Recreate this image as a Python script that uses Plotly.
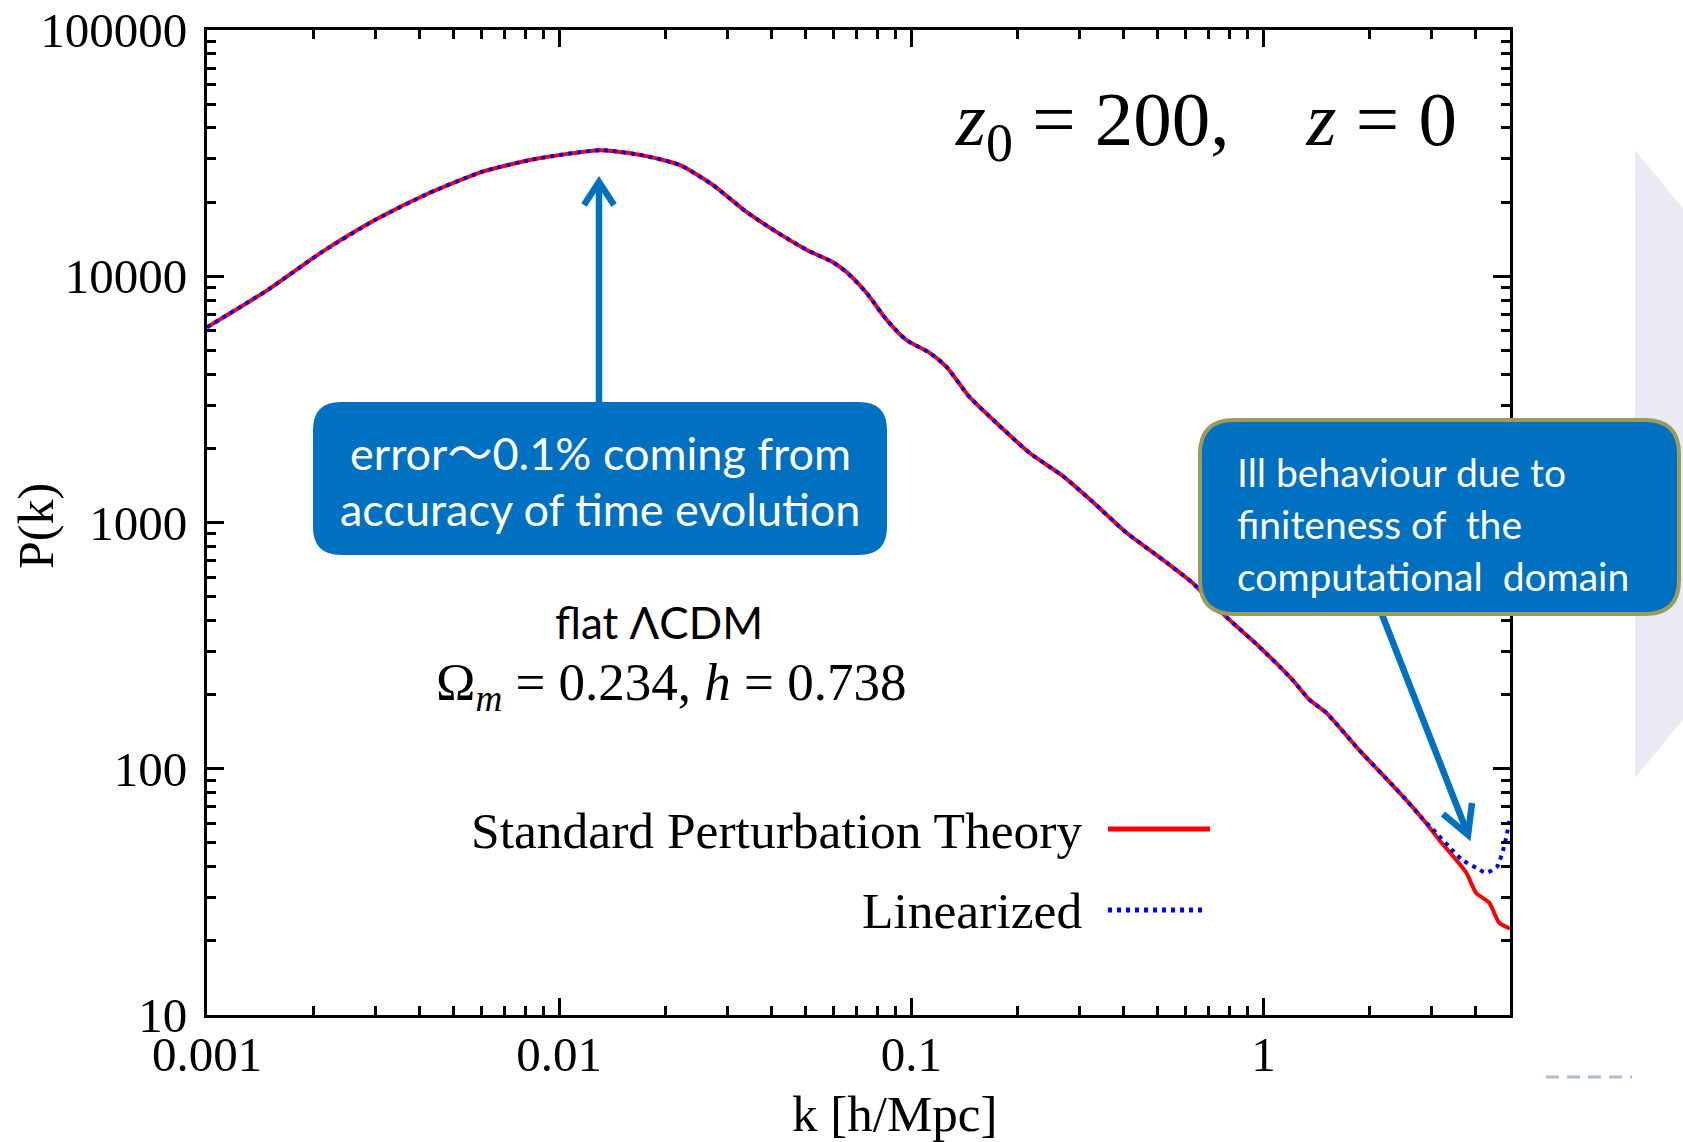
import plotly.graph_objects as go

# ---------------- data ----------------
k_spt = [0.001, 0.001493, 0.002118, 0.003006, 0.004276, 0.006067, 0.00861, 0.013122,
         0.017378, 0.021979, 0.02729, 0.034041, 0.0414, 0.050466, 0.059704, 0.065464,
         0.074645, 0.085114, 0.096828, 0.11272, 0.125893, 0.146218, 0.174582, 0.216272,
         0.268534, 0.326588, 0.408319, 0.505825, 0.628058, 0.78343, 0.972747, 1.207814,
         1.348963, 1.506607, 1.870682, 2.290868, 2.540973, 2.818383,
         3.155, 3.524, 3.767, 4.018, 4.375, 4.667, 5.012]
p_spt = [6209, 8831, 12531, 16943, 21777, 26607, 29992, 32509,
         30903, 28314, 23496, 18239, 15136, 12794, 11429, 10399,
         8551, 6653, 5508, 4887, 4285, 3236, 2535, 1919,
         1549, 1216, 908, 724, 569, 414, 313, 230,
         191, 169, 119, 87.7, 74.8, 63.1,
         51.4, 42.7, 37.8, 31.3, 28.6, 23.7, 22.4]

k_lin = [0.001, 0.001493, 0.002118, 0.003006, 0.004276, 0.006067, 0.00861, 0.013122,
         0.017378, 0.021979, 0.02729, 0.034041, 0.0414, 0.050466, 0.059704, 0.065464,
         0.074645, 0.085114, 0.096828, 0.11272, 0.125893, 0.146218, 0.174582, 0.216272,
         0.268534, 0.326588, 0.408319, 0.505825, 0.628058, 0.78343, 0.972747, 1.207814,
         1.348963, 1.506607, 1.870682, 2.290868, 2.540973, 2.818383,
         3.090, 3.365, 3.664, 4.018, 4.285, 4.603, 4.819, 4.920, 5.012]
p_lin = [6209, 8831, 12531, 16943, 21777, 26607, 29992, 32509,
         30903, 28314, 23496, 18239, 15136, 12794, 11429, 10399,
         8551, 6653, 5508, 4887, 4285, 3236, 2535, 1919,
         1549, 1216, 908, 724, 569, 414, 313, 230,
         191, 169, 119, 87.7, 74.8, 63.1,
         55.0, 48.2, 42.7, 39.6, 37.8, 40.0, 48.2, 55.0, 63.2]

x_major = [0.001, 0.01, 0.1, 1]
x_labels = ["0.001", "0.01", "0.1", "1"]
y_major = [10, 100, 1000, 10000, 100000]
y_labels = ["10", "100", "1000", "10000", "100000"]

series_names = ["Standard Perturbation Theory", "Linearized"]

# ---------------- layout geometry (pixels) ----------------
W, H = 1683, 1142
L, R, T, B = 207, 1510, 30, 1015


def px(X):
    return (X - L) / (R - L)


def py(Y):
    return (B - Y) / (B - T)


def path_from(points, close=False):
    s = "M " + " L ".join(f"{px(x):.5f},{py(y):.5f}" for x, y in points)
    return s + (" Z" if close else "")


def round_rect(x0, y0, x1, y1, r):
    P = lambda x, y: f"{px(x):.5f},{py(y):.5f}"
    return (f"M {P(x0 + r, y0)} L {P(x1 - r, y0)} Q {P(x1, y0)} {P(x1, y0 + r)} "
            f"L {P(x1, y1 - r)} Q {P(x1, y1)} {P(x1 - r, y1)} "
            f"L {P(x0 + r, y1)} Q {P(x0, y1)} {P(x0, y1 - r)} "
            f"L {P(x0, y0 + r)} Q {P(x0, y0)} {P(x0 + r, y0)} Z")


x_minor = [m * 10 ** e for e in range(-3, 1) for m in range(2, 10) if m * 10 ** e < 5.1]
y_minor = [m * 10 ** e for e in range(1, 5) for m in range(2, 10)]

SERIF = "Liberation Serif, Times New Roman, serif"
SANS = "Lato, Noto Sans, Noto Sans CJK JP, sans-serif"
BLUEBOX = "#0070C0"

fig = go.Figure()
fig.add_trace(go.Scatter(x=k_spt, y=p_spt, mode="lines", name=series_names[0],
                         line=dict(color="#FF0000", width=4, shape="spline", smoothing=0.6),
                         showlegend=False))
fig.add_trace(go.Scatter(x=k_lin, y=p_lin, mode="lines", name=series_names[1],
                         line=dict(color="#0000FF", width=4, dash="4px,5px", shape="spline",
                                   smoothing=0.6),
                         showlegend=False))

axis_common = dict(showline=True, linecolor="black", linewidth=3, mirror="allticks",
                   ticks="inside", ticklen=17, tickwidth=2.5, tickcolor="black",
                   showgrid=False, zeroline=False, automargin=False,
                   tickfont=dict(family=SERIF, size=49, color="black"))

fig.update_xaxes(type="log", range=[-3, 0.7], tickmode="array", tickvals=x_major,
                 ticktext=x_labels, ticklabelstandoff=-6,
                 minor=dict(tickvals=x_minor, ticks="inside", ticklen=9, tickwidth=2.5,
                            tickcolor="black", showgrid=False),
                 **axis_common)
fig.update_yaxes(type="log", range=[1, 5], tickmode="array", tickvals=y_major,
                 ticktext=y_labels, ticklabelstandoff=7,
                 minor=dict(tickvals=y_minor, ticks="inside", ticklen=9, tickwidth=2.5,
                            tickcolor="black", showgrid=False),
                 **axis_common)

shapes = []
# pale slide decoration at the right edge
shapes.append(dict(type="path", xref="paper", yref="paper", layer="below",
                   path=path_from([(1635, 150), (1690, 217), (1690, 711), (1635, 778)], close=True),
                   fillcolor="#E9EAF3", line=dict(width=0)))
# small dashed line at bottom right
shapes.append(dict(type="line", xref="paper", yref="paper", x0=px(1546), x1=px(1632),
                   y0=py(1077), y1=py(1077), line=dict(color="#A9BCD3", width=3, dash="13px,8px")))
# legend samples
shapes.append(dict(type="line", xref="paper", yref="paper", x0=px(1108), x1=px(1210),
                   y0=py(829), y1=py(829), line=dict(color="#FF0000", width=5)))
shapes.append(dict(type="line", xref="paper", yref="paper", x0=px(1108), x1=px(1202),
                   y0=py(910), y1=py(910), line=dict(color="#0000FF", width=5, dash="4px,5px")))
# callout 1 arrow
shapes.append(dict(type="path", xref="paper", yref="paper", layer="above",
                   path=path_from([(599, 405), (599, 183)]),
                   line=dict(color=BLUEBOX, width=6.5)))
shapes.append(dict(type="path", xref="paper", yref="paper", layer="above",
                   path=path_from([(584, 205), (599, 182), (614, 205)]),
                   line=dict(color=BLUEBOX, width=6.5)))
# callout 1 box
shapes.append(dict(type="path", xref="paper", yref="paper", layer="above",
                   path=round_rect(313, 402, 887, 555, 28),
                   fillcolor=BLUEBOX, line=dict(width=0)))
# callout 2 arrow
shapes.append(dict(type="path", xref="paper", yref="paper", layer="above",
                   path=path_from([(1381, 612), (1467, 832)]),
                   line=dict(color=BLUEBOX, width=6.5)))
shapes.append(dict(type="path", xref="paper", yref="paper", layer="above",
                   path=path_from([(1443, 814), (1468, 835), (1472, 803)]),
                   line=dict(color=BLUEBOX, width=6.5)))
# callout 2 box
shapes.append(dict(type="path", xref="paper", yref="paper", layer="above",
                   path=round_rect(1200, 420, 1679, 614, 34),
                   fillcolor=BLUEBOX, line=dict(color="#9B9B5C", width=4)))

NB = "\u00a0"
ann = []


def add_text(text, X, Y, size, family, color="black", xanchor="center", angle=0):
    ann.append(dict(text=text, x=px(X), y=py(Y), xref="paper", yref="paper",
                    xanchor=xanchor, yanchor="middle", showarrow=False, textangle=angle,
                    font=dict(family=family, size=size, color=color)))


add_text(f"<i>z</i><sub>0</sub>{NB}={NB}200,{NB*4}<i>z</i>{NB}={NB}0", 1206, 124, 77, SERIF)
add_text("flat ΛCDM", 659, 622, 44, SANS)
add_text(f"Ω<sub><i>m</i></sub>{NB}={NB}0.234,{NB}<i>h</i>{NB}={NB}0.738", 671, 686, 53, SERIF)
add_text(series_names[0], 1084, 830, 51.5, SERIF, xanchor="right")
add_text(series_names[1], 1084, 910, 51.5, SERIF, xanchor="right")
add_text("error～0.1% coming from", 600, 453, 45, SANS, color="white")
add_text("accuracy of time evolution", 600, 509, 45, SANS, color="white")
add_text("Ill behaviour due to", 1235, 472, 39, SANS, color="white", xanchor="left")
add_text(f"finiteness of {NB}the", 1235, 524, 39, SANS, color="white", xanchor="left")
add_text(f"computational {NB}domain", 1235, 576, 39, SANS, color="white", xanchor="left")
add_text("P(k)", 36, 526, 50, SERIF, angle=-90)
add_text("k [h/Mpc]", 895, 1114, 51, SERIF)

fig.update_layout(width=W, height=H, autosize=False,
                  margin=dict(l=L, r=W - R, t=T, b=H - B, pad=0, autoexpand=False),
                  paper_bgcolor="white", plot_bgcolor="white",
                  shapes=shapes, annotations=ann, showlegend=False)

fig.write_html("out.html")
